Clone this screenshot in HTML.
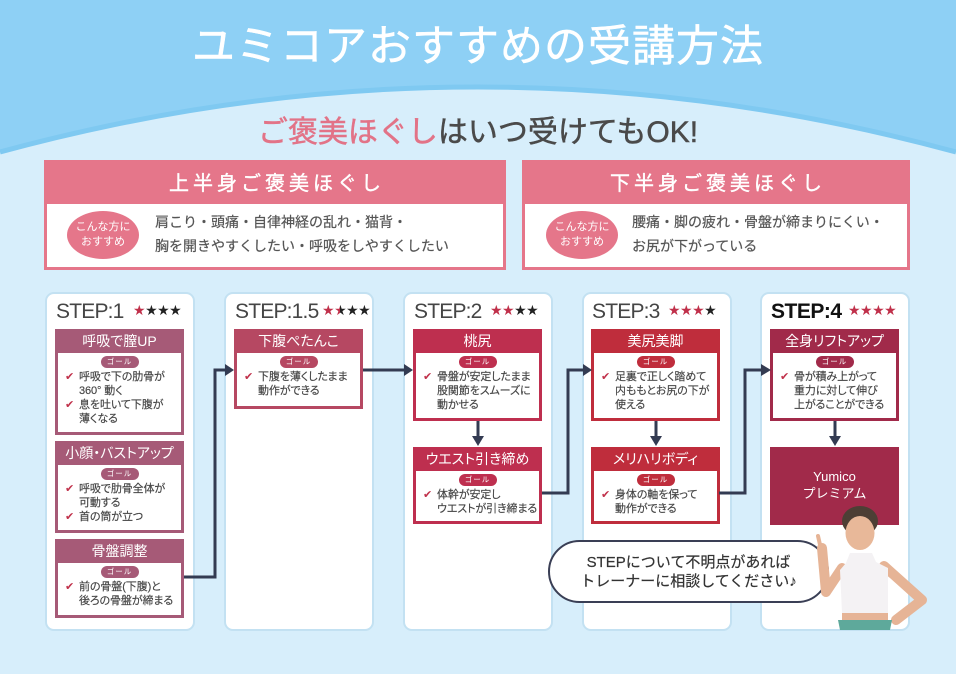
<!DOCTYPE html>
<html><head><meta charset="utf-8">
<style>
*{margin:0;padding:0;box-sizing:border-box}
html,body{width:956px;height:674px;overflow:hidden;background:#d7eefb;font-family:"Liberation Sans","Noto Sans CJK JP",sans-serif}
.abs{position:absolute}
#bg{position:absolute;left:0;top:0}
.title{position:absolute;left:0;top:21px;width:956px;text-align:center;color:#fff;font-size:43px;font-weight:400;line-height:52px;letter-spacing:1px;-webkit-text-stroke:0.5px #fff}
.sub{position:absolute;left:0;top:114px;width:956px;text-align:center;color:#4a4a4a;font-size:30px;font-weight:400;line-height:38px;-webkit-text-stroke:0.5px #4a4a4a}
.sub span{color:#e27387;-webkit-text-stroke:0.5px #e27387}
.pbox{position:absolute;top:160px;height:110px;background:#e5768a;padding:0 3px 3px}
.pbox .ph{height:44px;line-height:48px;text-align:center;color:#fff;font-size:20px;letter-spacing:4px;padding-left:4px;-webkit-text-stroke:0.4px #fff}
.pbox .pb{position:relative;background:#fff;height:63px}
.ell{position:absolute;top:7px;width:72px;height:48px;border-radius:50%;background:#e5768a;color:#fff;font-size:11px;line-height:15px;text-align:center;padding-top:9px}
.ptxt{position:absolute;top:6px;color:#555;font-size:14px;line-height:24px;white-space:nowrap;-webkit-text-stroke:0.2px #555}
.card{position:absolute;top:292px;width:150px;height:339px;background:#fff;border:2px solid #c3e1f2;border-radius:9px}
.step{position:absolute;top:299px;font-size:21px;line-height:26px;color:#454545;letter-spacing:-0.8px;white-space:nowrap}
.stars{position:absolute;top:302px;font-family:"DejaVu Sans",sans-serif;font-size:14px;line-height:18px;letter-spacing:-0.5px;color:#222;white-space:nowrap}
.stars .r{color:#c0304a}
.half{background:linear-gradient(90deg,#c0304a 50%,#222 50%);-webkit-background-clip:text;background-clip:text;color:transparent}
.box{position:absolute;padding:0 3px 3px}
.box .hd{height:24px;line-height:25px;text-align:center;color:#fff;font-size:14px;white-space:nowrap;font-feature-settings:"palt"}
.box .bd{background:#fff;height:calc(100% - 24px);padding-top:3px}
.pill{width:38px;height:12px;border-radius:6px;margin:0 auto;color:#fff;font-size:7.5px;line-height:12px;text-align:center;letter-spacing:1px}
.box ul{list-style:none;margin-top:2px}
.box li{position:relative;padding-left:21px;font-size:11px;line-height:14px;color:#444;white-space:nowrap;letter-spacing:-0.1px;font-feature-settings:"palt";-webkit-text-stroke:0.15px #444}
.box li.ck:before{content:"\2714";position:absolute;left:7px;top:0;font-family:"DejaVu Sans",sans-serif;font-size:11px;color:#c0304a;-webkit-text-stroke:0}
.c1{background:#a65a77}.c2{background:#b64862}.c3{background:#be2f4f}.c4{background:#bf2d3c}.c5{background:#a12a4a}
.yum{position:absolute;left:770px;top:447px;width:129px;height:78px;background:#a12a4a;color:#fff;font-size:13px;line-height:17px;text-align:center;padding-top:21px}
.bub{position:absolute;left:549px;top:553px;width:279px;text-align:center;color:#333;font-size:15px;line-height:19px;white-space:nowrap;-webkit-text-stroke:0.2px #333}
</style></head><body>
<svg id="bg" width="956" height="674" viewBox="0 0 956 674">
<path d="M0,0 H956 V152 Q478,22 0,152 Z" fill="#8ed0f5"/>
<path d="M0,152 Q478,22 956,152" fill="none" stroke="#7fc9f1" stroke-width="5"/>
</svg>
<div class="title">ユミコアおすすめの受講方法</div>
<div class="sub"><span>ご褒美ほぐし</span>はいつ受けてもOK!</div>

<div class="pbox" style="left:44px;width:462px">
 <div class="ph">上半身ご褒美ほぐし</div>
 <div class="pb">
  <div class="ell" style="left:20px">こんな方に<br>おすすめ</div>
  <div class="ptxt" style="left:108px">肩こり・頭痛・自律神経の乱れ・猫背・<br>胸を開きやすくしたい・呼吸をしやすくしたい</div>
 </div>
</div>
<div class="pbox" style="left:522px;width:388px">
 <div class="ph">下半身ご褒美ほぐし</div>
 <div class="pb">
  <div class="ell" style="left:21px">こんな方に<br>おすすめ</div>
  <div class="ptxt" style="left:107px">腰痛・脚の疲れ・骨盤が締まりにくい・<br>お尻が下がっている</div>
 </div>
</div>

<div class="card" style="left:45px"></div>
<div class="card" style="left:224px"></div>
<div class="card" style="left:403px"></div>
<div class="card" style="left:582px"></div>
<div class="card" style="left:760px"></div>

<div class="step" style="left:56px">STEP:1</div>
<div class="stars" style="left:133px"><span class="r">★</span>★★★</div>
<div class="step" style="left:235px">STEP:1.5</div>
<div class="stars" style="left:322px"><span class="r">★</span><span class="half">★</span>★★</div>
<div class="step" style="left:414px">STEP:2</div>
<div class="stars" style="left:490px"><span class="r">★★</span>★★</div>
<div class="step" style="left:592px">STEP:3</div>
<div class="stars" style="left:668px"><span class="r">★★★</span>★</div>
<div class="step" style="left:771px;color:#111;font-weight:bold;letter-spacing:-0.5px">STEP:4</div>
<div class="stars" style="left:848px"><span class="r">★★★★</span></div>

<!-- card1 -->
<div class="box c1" style="left:55px;top:329px;width:129px;height:106px">
 <div class="hd">呼吸で膣UP</div>
 <div class="bd"><div class="pill c1">ゴール</div><ul>
  <li class="ck">呼吸で下の肋骨が</li><li>360° 動く</li><li class="ck">息を吐いて下腹が</li><li>薄くなる</li></ul></div>
</div>
<div class="box c1" style="left:55px;top:441px;width:129px;height:92px">
 <div class="hd">小顔・バストアップ</div>
 <div class="bd"><div class="pill c1">ゴール</div><ul>
  <li class="ck">呼吸で肋骨全体が</li><li>可動する</li><li class="ck">首の筒が立つ</li></ul></div>
</div>
<div class="box c1" style="left:55px;top:539px;width:129px;height:79px">
 <div class="hd">骨盤調整</div>
 <div class="bd"><div class="pill c1">ゴール</div><ul>
  <li class="ck">前の骨盤(下腹)と</li><li>後ろの骨盤が締まる</li></ul></div>
</div>
<!-- card2 -->
<div class="box c2" style="left:234px;top:329px;width:129px;height:80px">
 <div class="hd">下腹ぺたんこ</div>
 <div class="bd"><div class="pill c2">ゴール</div><ul>
  <li class="ck">下腹を薄くしたまま</li><li>動作ができる</li></ul></div>
</div>
<!-- card3 -->
<div class="box c3" style="left:413px;top:329px;width:129px;height:92px">
 <div class="hd">桃尻</div>
 <div class="bd"><div class="pill c3">ゴール</div><ul>
  <li class="ck">骨盤が安定したまま</li><li>股関節をスムーズに</li><li>動かせる</li></ul></div>
</div>
<div class="box c3" style="left:413px;top:447px;width:129px;height:77px">
 <div class="hd">ウエスト引き締め</div>
 <div class="bd"><div class="pill c3">ゴール</div><ul>
  <li class="ck">体幹が安定し</li><li>ウエストが引き締まる</li></ul></div>
</div>
<!-- card4 -->
<div class="box c4" style="left:591px;top:329px;width:129px;height:92px">
 <div class="hd">美尻美脚</div>
 <div class="bd"><div class="pill c4">ゴール</div><ul>
  <li class="ck">足裏で正しく踏めて</li><li>内ももとお尻の下が</li><li>使える</li></ul></div>
</div>
<div class="box c4" style="left:591px;top:447px;width:129px;height:77px">
 <div class="hd">メリハリボディ</div>
 <div class="bd"><div class="pill c4">ゴール</div><ul>
  <li class="ck">身体の軸を保って</li><li>動作ができる</li></ul></div>
</div>
<!-- card5 -->
<div class="box c5" style="left:770px;top:329px;width:129px;height:92px">
 <div class="hd">全身リフトアップ</div>
 <div class="bd"><div class="pill c5">ゴール</div><ul>
  <li class="ck">骨が積み上がって</li><li>重力に対して伸び</li><li>上がることができる</li></ul></div>
</div>
<div class="yum">Yumico<br>プレミアム</div>

<svg class="abs" style="left:0;top:0" width="956" height="674" viewBox="0 0 956 674">
 <g fill="none" stroke="#333b52" stroke-width="3">
  <path d="M184,577 H215 V370 H227"/>
  <path d="M363,370 H406"/>
  <path d="M478,421 V438"/>
  <path d="M542,493 H568 V370 H585"/>
  <path d="M656,421 V438"/>
  <path d="M719,493 H745 V370 H763"/>
  <path d="M835,421 V438"/>
 </g>
 <g fill="#333b52">
  <polygon points="225,364 234,370 225,376"/>
  <polygon points="404,364 413,370 404,376"/>
  <polygon points="472,436 484,436 478,446"/>
  <polygon points="583,364 592,370 583,376"/>
  <polygon points="650,436 662,436 656,446"/>
  <polygon points="761,364 771,370 761,376"/>
  <polygon points="829,436 841,436 835,446"/>
 </g>
 <rect x="549" y="541" width="279" height="61" rx="30.5" fill="#fff" stroke="#3a3f55" stroke-width="2"/>
 <!-- woman -->
 <g>
  <path d="M822,548 L826,592 L842,568" fill="none" stroke="#e6b496" stroke-width="10" stroke-linecap="round" stroke-linejoin="round"/>
  <path d="M818,536 L821,549" stroke="#e6b496" stroke-width="4" stroke-linecap="round"/>
  <path d="M884,566 L922,600 L896,620" fill="none" stroke="#e6b496" stroke-width="10" stroke-linecap="round" stroke-linejoin="round"/>
  <rect x="842" y="606" width="46" height="18" fill="#e6b496"/>
  <path d="M838,620 H892 L890,630 H840 Z" fill="#5ea99b"/>
  <path d="M850,553 H872 L876,562 L888,568 L888,613 L842,613 L840,570 L846,563 Z" fill="#f4f2f4"/>
  <ellipse cx="860" cy="521" rx="18" ry="15" fill="#4d3f35"/>
  <ellipse cx="860" cy="533" rx="14.5" ry="17" fill="#e8b899"/>
  <path d="M846,520 Q860,508 875,520 L875,515 Q860,502 845,515 Z" fill="#4d3f35"/>
 </g>
</svg>
<div class="bub">STEPについて不明点があれば<br>トレーナーに相談してください♪</div>
</body></html>
